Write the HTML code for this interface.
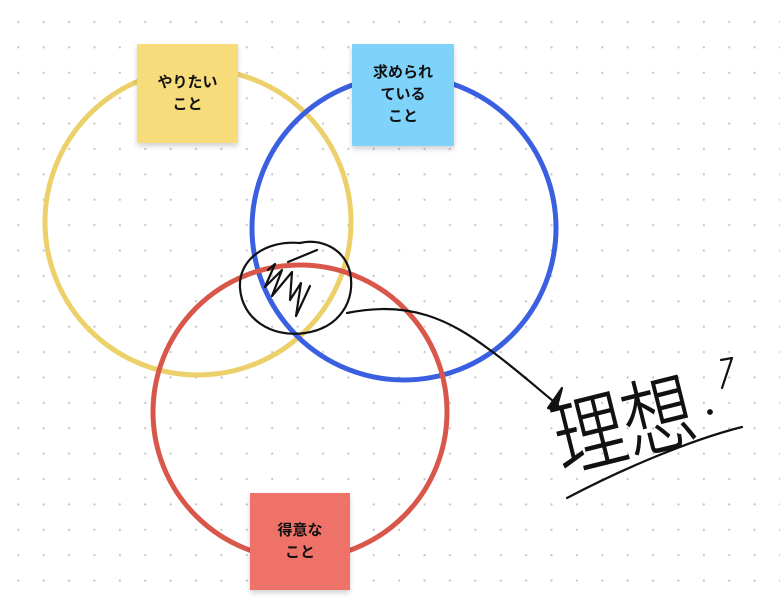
<!DOCTYPE html>
<html><head><meta charset="utf-8"><style>
html,body{margin:0;padding:0;background:#fff}
body{width:780px;height:601px;overflow:hidden;position:relative;
background-image:radial-gradient(circle,#c4c4c4 0.9px,transparent 1.3px);
background-size:25.4px 25.4px;background-position:5.6px 9.3px;}
.n{position:absolute;display:flex;align-items:center;justify-content:center;text-align:center;
font-family:"Liberation Sans","Noto Sans CJK JP",sans-serif;font-weight:bold;font-size:15px;line-height:22px;color:#111;
box-shadow:0 3px 5px rgba(0,0,0,0.18)}
svg{position:absolute;left:0;top:0}
</style></head><body>
<svg width="780" height="601" viewBox="0 0 780 601">
<circle cx="198" cy="222" r="153" fill="none" stroke="#ecd06a" stroke-width="5"/>
<circle cx="404" cy="228" r="152" fill="none" stroke="#3a5fe0" stroke-width="5"/>
<circle cx="300" cy="412" r="147" fill="none" stroke="#d8574a" stroke-width="5"/>
<g fill="none" stroke="#111" stroke-width="2.2" stroke-linecap="round" stroke-linejoin="round">
<path d="M300 243 C265 240 238 260 240 288 C242 318 270 338 305 333 C340 328 356 300 350 272 C344 248 320 238 300 243"/>
<path d="M268 270 L275 264 L265 287 L282 270 L272 296 L292 272 L290 300 L301 283 L296 316 L310 286"/>
<path d="M288 262 L317 250"/>
<path d="M347 313 C410 300 450 320 490 350 C520 372 545 395 558 405"/>
<path d="M562 388 L548 408 L556 410 Z" fill="#111"/>
<path d="M567 498 C620 470 690 440 742 427"/>
<path d="M721 360 L732 358 L722 388"/>
<circle cx="710" cy="412" r="1.8" fill="#111"/>
</g>
<text x="0" y="0" transform="translate(562 472) rotate(-14) scale(1.05,1.25)" font-family="'Noto Sans CJK JP',sans-serif" font-size="68" fill="#111" stroke="#111" stroke-width="0.6" font-weight="300">理想</text>
</svg>
<div class="n" style="left:137px;top:44px;width:101px;height:99px;background:#f7dc7c">やりたい<br>こと</div>
<div class="n" style="left:352px;top:44px;width:102px;height:102px;background:#7fd3fa">求められ<br>ている<br>こと</div>
<div class="n" style="left:250px;top:493px;width:100px;height:97px;background:#ee7268">得意な<br>こと</div>
</body></html>
